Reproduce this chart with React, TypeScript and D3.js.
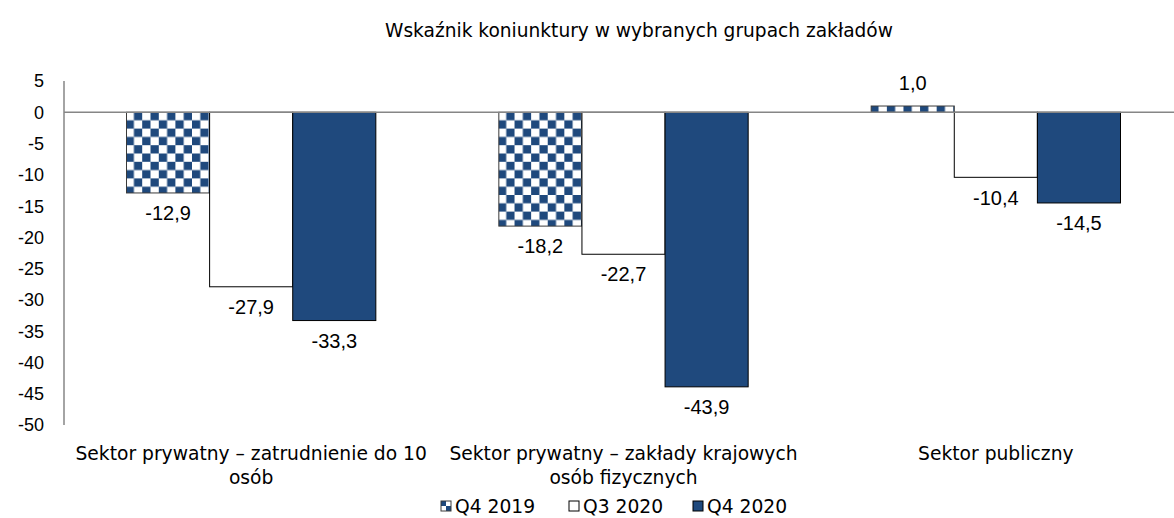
import React from "react";
import { scaleBand, scaleLinear, range } from "d3";

// dane
const categories = [
  ["Sektor prywatny – zatrudnienie do 10", "osób"],
  ["Sektor prywatny – zakłady krajowych", "osób fizycznych"],
  ["Sektor publiczny"],
];
const seriesNames = ["Q4 2019", "Q3 2020", "Q4 2020"];
const q4_2019 = [-12.9, -18.2, 1.0];
const q3_2020 = [-27.9, -22.7, -10.4];
const q4_2020 = [-33.3, -43.9, -14.5];
const yTicks = range(5, -51, -5);

const W = 1174;
const H = 518;
const BLUE = "#1f497d";
const AXIS = "#868686";
const TXT_FONT = "Tahoma, 'DejaVu Sans', Verdana, sans-serif";
const NUM_FONT = "'Liberation Sans', Arial, sans-serif";

const fills = ["url(#checker)", "#ffffff", BLUE];
const strokes = ["#3a3a3a", "#000000", "#000000"];

const fmt = (v: number) => v.toFixed(1).replace(".", ",");

export default function App() {
  const values = [q4_2019, q3_2020, q4_2020];
  const y = scaleLinear().domain([-50, 5]).range([425, 81]);
  const x = scaleBand<number>()
    .domain(categories.map((_, i) => i))
    .range([65, 1182]);
  const xs = scaleBand<number>()
    .domain(seriesNames.map((_, i) => i))
    .range([0, x.bandwidth()])
    .paddingOuter(0.74);

  const legendX = [441, 569, 693];

  return (
    <svg width={W} height={H} style={{ position: "absolute", left: 0, top: 0, background: "#fff" }}>
      <defs>
        <pattern id="checker" patternUnits="userSpaceOnUse" width={16.6} height={16.6} x={127} y={112}>
          <rect width={16.6} height={16.6} fill="#fff" />
          <rect x={8.3} y={0} width={8.3} height={8.3} fill={BLUE} />
          <rect x={0} y={8.3} width={8.3} height={8.3} fill={BLUE} />
        </pattern>
        <pattern id="legchk" patternUnits="userSpaceOnUse" width={10} height={10} x={441} y={501}>
          <rect width={10} height={10} fill={BLUE} />
          <rect x={5} y={0} width={5} height={5} fill="#fff" />
          <rect x={0} y={5} width={5} height={5} fill="#fff" />
        </pattern>
      </defs>

      <text x={639} y={37} textAnchor="middle" fontFamily={TXT_FONT} fontSize={18.6} fill="#000">
        Wskaźnik koniunktury w wybranych grupach zakładów
      </text>

      {/* oś Y */}
      {yTicks.map((t) => (
        <text key={t} x={44} y={y(t)} dy="0.36em" textAnchor="end" fontFamily={NUM_FONT} fontSize={18} fill="#000">
          {t}
        </text>
      ))}
      <line x1={64} x2={64} y1={y(5)} y2={y(-50)} stroke={AXIS} strokeWidth={1.5} />

      {/* słupki */}
      {categories.map((_, ci) => (
        <g key={ci} transform={`translate(${x(ci)},0)`}>
          {values.map((vals, si) => {
            const v = vals[ci];
            const y0 = y(Math.max(0, v));
            const h = Math.abs(y(v) - y(0));
            return (
              <rect
                key={si}
                x={xs(si)}
                y={y0}
                width={xs.bandwidth()}
                height={h}
                fill={fills[si]}
                stroke={strokes[si]}
                strokeWidth={1}
              />
            );
          })}
          {values.map((vals, si) => {
            const v = vals[ci];
            const ly = v < 0 ? y(v) + 20 : y(v) - 23;
            return (
              <text
                key={"l" + si}
                x={(xs(si) as number) + xs.bandwidth() / 2}
                y={ly}
                dy="0.36em"
                textAnchor="middle"
                fontFamily={NUM_FONT}
                fontSize={20}
                fill="#000"
              >
                {fmt(v)}
              </text>
            );
          })}
        </g>
      ))}

      <line x1={64} x2={W} y1={y(0)} y2={y(0)} stroke={AXIS} strokeWidth={1.5} />

      {/* etykiety kategorii */}
      {categories.map((lines, ci) => (
        <text
          key={"c" + ci}
          x={(x(ci) as number) + x.bandwidth() / 2}
          y={460}
          textAnchor="middle"
          fontFamily={TXT_FONT}
          fontSize={18.7}
          fill="#000"
        >
          {lines.map((ln, li) => (
            <tspan key={li} x={(x(ci) as number) + x.bandwidth() / 2} dy={li === 0 ? 0 : 24}>
              {ln}
            </tspan>
          ))}
        </text>
      ))}

      {/* legenda */}
      {seriesNames.map((s, si) => (
        <g key={s}>
          <rect x={legendX[si]} y={501} width={10} height={10} fill={si === 0 ? "url(#legchk)" : fills[si]} stroke={strokes[si]} strokeWidth={1} />
          <text x={legendX[si] + 14} y={513} fontFamily={TXT_FONT} fontSize={18.7} fill="#000">
            {s}
          </text>
        </g>
      ))}
    </svg>
  );
}
